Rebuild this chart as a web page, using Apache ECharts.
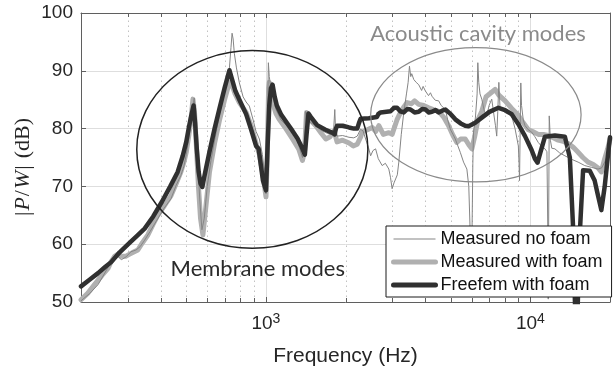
<!DOCTYPE html>
<html>
<head>
<meta charset="utf-8">
<script src="https://cdn.jsdelivr.net/npm/echarts@6/dist/echarts.min.js"></script>
<style>
  html, body { margin: 0; padding: 0; background: #ffffff; }
  #chart { width: 613px; height: 372px; }
</style>
</head>
<body>
<div id="chart"></div>
<script>
// Frequency response |P/W| (dB) vs frequency (Hz)

const seriesNames = ['Measured no foam', 'Measured with foam', 'Freefem with foam'];

const noFoamHz = [200, 216, 232, 246, 260, 268, 276, 284, 296, 309, 323, 335, 348, 365, 390, 412, 438, 458, 477, 490,
  500, 512, 522, 530, 536, 543, 552, 562, 573, 585, 600, 620, 640, 665, 690, 712, 728, 738, 745, 752,
  760, 774, 794, 820, 842, 866, 895, 918, 945, 970, 990, 1001, 1012, 1022, 1030, 1045, 1060, 1092, 1140, 1200,
  1261, 1317, 1375, 1400, 1412, 1430, 1480, 1545, 1610, 1685, 1760, 1805, 1822, 1835, 1858, 1950, 2062, 2150, 2215, 2281,
  2330, 2383, 2440, 2489, 2540, 2599, 2660, 2752, 2830, 2916, 2960, 3001, 3050, 3091, 3140, 3181, 3250, 3322, 3400, 3450,
  3490, 3530, 3560, 3623, 3700, 3783, 3880, 3930, 4010, 4120, 4190, 4246, 4370, 4500, 4600, 4769, 4870, 4980, 5100, 5202,
  5320, 5432, 5589, 5753, 5850, 5940, 5975, 6010, 6060, 6096, 6200, 6290, 6328, 6380, 6450, 6551, 6700, 6841, 6980, 7144,
  7300, 7380, 7461, 7530, 7600, 7680, 7792, 8000, 8250, 8499, 8750, 9006, 9060, 9100, 9150, 9200, 9260, 9400, 9544, 9820,
  10107, 10400, 10711, 11000, 11354, 11550, 11640, 11682, 11720, 11785, 11900, 12050, 12380, 12900, 13504, 14298, 15150, 16059, 17000, 18027,
  18600, 19100, 19600, 20000];
const noFoamDb = [50.2, 51.5, 53.0, 55.0, 57.0, 57.6, 57.9, 57.3, 57.8, 58.7, 59.0, 59.6, 60.7, 62.2, 64.4, 66.2, 67.9, 70.2, 71.9, 73.5,
  75.5, 78.5, 81.5, 84.0, 85.3, 81.0, 75.0, 68.0, 62.5, 64.5, 70.0, 74.5, 78.0, 82.0, 85.5, 88.5, 90.5, 94.0, 96.5, 95.5,
  93.0, 90.5, 87.9, 85.5, 84.6, 83.9, 81.5, 79.5, 78.2, 75.5, 72.0, 68.7, 78.0, 91.4, 89.0, 87.0, 85.8, 83.3, 81.5, 80.5,
  79.3, 77.8, 75.0, 77.0, 83.0, 81.8, 81.0, 80.5, 79.8, 79.3, 79.0, 80.0, 83.3, 79.5, 78.7, 78.8, 78.5, 78.4, 78.7, 79.9,
  79.6, 78.2, 76.8, 75.3, 76.2, 76.5, 74.8, 73.6, 74.0, 73.0, 71.5, 69.6, 70.6, 70.4, 72.0, 74.2, 79.0, 82.8, 86.0, 88.0,
  90.8, 89.0, 89.5, 88.5, 88.0, 87.6, 86.6, 87.3, 86.5, 85.7, 86.2, 85.6, 84.9, 84.8, 84.0, 83.3, 81.5, 79.9, 79.0, 78.2,
  77.0, 75.9, 74.2, 73.0, 70.0, 60.0, 52.0, 60.0, 74.0, 79.4, 82.0, 86.0, 91.4, 88.0, 86.0, 85.1, 83.0, 82.2, 84.0, 85.1,
  82.0, 80.5, 78.7, 83.0, 88.0, 83.5, 83.3, 82.8, 82.5, 82.2, 80.0, 77.0, 74.0, 71.0, 80.0, 87.9, 84.0, 81.5, 80.5, 79.8,
  79.4, 78.6, 77.6, 77.0, 76.5, 76.0, 62.0, 50.5, 62.0, 82.2, 78.0, 76.6, 76.5, 75.8, 75.3, 74.7, 74.2, 73.6, 73.3, 73.0,
  73.2, 74.2, 75.5, 77.0];

const foamHz = [200, 212, 225, 240, 253, 260, 268, 276, 284, 295, 303, 315, 328, 342, 358, 374, 390, 414, 438, 458,
  477, 490, 500, 512, 522, 530, 537, 546, 556, 566, 578, 590, 612, 640, 668, 698, 728, 745, 765, 794,
  842, 880, 918, 945, 975, 1001, 1012, 1024, 1030, 1045, 1060, 1092, 1123, 1190, 1261, 1330, 1375, 1400, 1424, 1470,
  1545, 1620, 1685, 1750, 1811, 1858, 1950, 2062, 2140, 2215, 2280, 2314, 2420, 2523, 2600, 2674, 2780, 2916, 3001, 3046,
  3130, 3228, 3330, 3419, 3550, 3650, 3783, 3950, 4126, 4300, 4500, 4700, 4907, 5100, 5274, 5450, 5673, 5850, 6007, 6150,
  6330, 6551, 6800, 7100, 7357, 7600, 8025, 8499, 9006, 9400, 9821, 10200, 10711, 11200, 11682, 12200, 12742, 13300, 13895, 14500,
  15153, 15800, 16524, 17300, 18027, 18549, 19100, 19600, 20000];
const foamDb = [50.4, 51.5, 53.0, 54.6, 55.8, 57.0, 57.9, 58.3, 57.9, 57.9, 58.2, 58.6, 59.0, 60.3, 61.6, 63.4, 65.0, 66.7, 68.4, 70.5,
  72.5, 74.2, 75.9, 79.0, 82.0, 85.1, 83.0, 77.0, 70.0, 64.5, 61.6, 65.5, 72.5, 77.5, 81.5, 85.0, 88.0, 87.5, 86.0, 84.5,
  82.8, 80.5, 77.5, 75.5, 72.0, 68.2, 75.0, 87.0, 88.0, 86.0, 84.5, 82.6, 81.6, 80.0, 78.2, 76.5, 74.5, 76.0, 82.8, 81.5,
  80.5, 79.2, 78.2, 78.6, 79.6, 77.7, 78.0, 77.5, 77.0, 77.3, 78.5, 79.4, 79.8, 80.2, 79.5, 80.5, 79.0, 79.3, 79.0, 79.9,
  81.5, 82.8, 83.8, 84.5, 84.3, 84.8, 84.2, 84.0, 83.6, 83.3, 83.0, 82.0, 80.5, 78.8, 77.6, 78.2, 78.2, 77.2, 76.5, 78.5,
  81.5, 83.0, 85.5, 86.2, 86.8, 85.8, 84.8, 83.5, 82.3, 81.0, 79.8, 79.5, 79.0, 79.0, 78.8, 78.4, 78.0, 77.8, 77.4, 76.8,
  75.9, 75.0, 74.2, 73.8, 73.2, 72.5, 74.8, 76.5, 78.2];

const freefemHz = [200, 216, 232, 246, 260, 280, 303, 325, 348, 375, 404, 435, 464, 485, 500, 512, 522, 533, 540, 548,
  557, 566, 575, 590, 612, 640, 668, 698, 728, 745, 767, 794, 842, 880, 918, 939, 955, 975, 1001, 1015,
  1030, 1045, 1060, 1080, 1100, 1140, 1200, 1261, 1317, 1360, 1404, 1425, 1449, 1480, 1562, 1680, 1780, 1820, 1840, 1858,
  1950, 2062, 2150, 2215, 2250, 2281, 2450, 2628, 2660, 2714, 2960, 3050, 3134, 3220, 3322, 3430, 3521, 3650, 3783, 3900,
  4010, 4130, 4246, 4380, 4500, 4640, 4769, 5000, 5202, 5450, 5673, 5838, 6187, 6551, 7000, 7572, 8025, 8499, 9000, 9544,
  10107, 10400, 10647, 10900, 11354, 12380, 13504, 13692, 14100, 14500, 14931, 15300, 15824, 16769, 17006, 17500, 17900, 18549, 19100, 19657,
  20000];
const freefemDb = [52.7, 53.9, 55.0, 56.0, 56.9, 58.6, 60.1, 61.4, 62.7, 64.8, 67.3, 70.0, 72.5, 75.3, 77.7, 80.3, 82.2, 84.0, 81.0, 76.5,
  72.5, 70.5, 69.9, 72.5, 76.0, 80.0, 83.5, 87.0, 90.1, 88.5, 86.5, 85.0, 82.5, 79.8, 77.0, 76.5, 74.0, 71.0, 69.3, 77.0,
  84.0, 87.0, 87.6, 85.5, 84.0, 82.5, 81.0, 79.6, 78.3, 77.0, 75.5, 79.0, 82.6, 82.0, 80.6, 79.8, 79.3, 79.0, 80.0, 80.5,
  80.5, 80.2, 80.0, 80.0, 81.0, 81.7, 81.8, 82.0, 82.5, 82.8, 83.0, 83.6, 83.6, 83.0, 82.8, 83.4, 83.3, 82.8, 82.9, 83.4,
  83.3, 82.8, 82.9, 83.2, 82.8, 83.1, 83.3, 82.5, 81.6, 80.9, 80.5, 80.4, 81.0, 81.9, 82.9, 83.6, 83.2, 82.5, 80.8, 78.7,
  76.3, 74.8, 74.1, 75.8, 78.6, 78.8, 78.6, 78.5, 75.0, 63.0, 40.0, 60.0, 72.8, 72.7, 72.4, 71.0, 69.0, 65.9, 70.0, 75.5,
  78.5];

// Dotted minor grid positions (2..9 x each decade)
const minorHz = [300, 400, 500, 600, 700, 800, 900, 2000, 3000, 4000, 5000, 6000, 7000, 8000, 9000];

// Annotation ellipses: [left Hz, top dB, right Hz, bottom dB]
const membraneRegion = [325, 93.5, 2430, 59.3];
const cavityRegion = [2490, 94.0, 15550, 70.8];
const membraneLabel = { text: 'Membrane modes', at: [932, 55.8] };
const cavityLabel = { text: 'Acoustic cavity modes', at: [6338, 96.3] };

const xMin = 200, xMax = 20000, yMin = 50, yMax = 100;
const axisColor = '#5f5f5f';
const textColor = '#262626';
const sansFont = '"Liberation Sans", Arial, Helvetica, sans-serif';
const serifFont = '"Liberation Serif", "DejaVu Serif", serif';
const annoFont = 'Lato, "Open Sans", sans-serif';

const zip = (xs, ys) => xs.map((x, i) => [x, ys[i]]);

function isDecade(v) {
  const l = Math.log10(v);
  return Math.abs(l - Math.round(l)) < 1e-6;
}

const chart = echarts.init(document.getElementById('chart'), null, { renderer: 'canvas' });

function ellipseItem(region, color, width) {
  return function (params, api) {
    const p0 = api.coord([region[0], region[1]]);
    const p1 = api.coord([region[2], region[3]]);
    return {
      type: 'ellipse',
      shape: {
        cx: (p0[0] + p1[0]) / 2, cy: (p0[1] + p1[1]) / 2,
        rx: Math.abs(p1[0] - p0[0]) / 2, ry: Math.abs(p1[1] - p0[1]) / 2
      },
      style: { fill: 'none', stroke: color, lineWidth: width },
      silent: true
    };
  };
}

function labelItem(label, color) {
  return function (params, api) {
    const p = api.coord(label.at);
    return {
      type: 'text',
      x: p[0], y: p[1],
      style: {
        text: label.text, fill: color, fontSize: 22, fontFamily: annoFont,
        align: 'center', verticalAlign: 'middle'
      },
      silent: true
    };
  };
}

const option = {
  animation: false,
  backgroundColor: '#ffffff',
  grid: { left: 81, right: 1, top: 13, bottom: 68, containLabel: false },
  xAxis: [{
    type: 'log', logBase: 10, min: xMin, max: xMax,
    axisLine: { show: true, lineStyle: { color: axisColor, width: 1 } },
    axisTick: { show: true, inside: true, length: 5, lineStyle: { color: axisColor } },
    splitLine: { show: true, lineStyle: { color: '#dedede', width: 1 } },
    minorTick: { show: false }, minorSplitLine: { show: false },
    axisLabel: {
      margin: 10,
      formatter: v => isDecade(v) ? '{b|10}{s|' + Math.round(Math.log10(v)) + '}' : '',
      rich: {
        b: { fontSize: 19, fontFamily: sansFont, color: textColor, lineHeight: 24 },
        s: { fontSize: 14, fontFamily: sansFont, color: textColor, lineHeight: 14, verticalAlign: 'top' }
      }
    },
    name: 'Frequency (Hz)', nameLocation: 'middle', nameGap: 44,
    nameTextStyle: { fontSize: 21, fontFamily: sansFont, color: textColor }
  }, {
    type: 'log', logBase: 10, min: xMin, max: xMax, position: 'top',
    axisLine: { show: true, lineStyle: { color: axisColor, width: 1 } },
    axisTick: { show: true, inside: true, length: 5, lineStyle: { color: axisColor } },
    axisLabel: { show: false }, splitLine: { show: false }
  }],
  yAxis: [{
    type: 'value', min: yMin, max: yMax, interval: 10,
    axisLine: { show: true, lineStyle: { color: axisColor, width: 1 } },
    axisTick: { show: true, inside: true, length: 5, lineStyle: { color: axisColor } },
    splitLine: { show: true, lineStyle: { color: '#dedede', width: 1 } },
    axisLabel: { margin: 8, fontSize: 19, fontFamily: sansFont, color: textColor }
  }, {
    type: 'value', min: yMin, max: yMax, interval: 10, position: 'right',
    axisLine: { show: true, lineStyle: { color: axisColor, width: 1 } },
    axisTick: { show: true, inside: true, length: 5, lineStyle: { color: axisColor } },
    axisLabel: { show: false }, splitLine: { show: false }
  }],
  graphic: [{
    type: 'text', x: 23, y: 167, rotation: Math.PI / 2,
    style: {
      text: '{n||}{i|P}{n|/}{i|W}{n||}{d|(dB)}',
      align: 'center', verticalAlign: 'middle',
      rich: {
        n: { fontSize: 22, fontFamily: serifFont, fill: textColor },
        i: { fontSize: 22, fontFamily: serifFont, fontStyle: 'italic', fill: textColor, padding: [0, 1] },
        d: { fontSize: 22, fontFamily: serifFont, fill: textColor, padding: [0, 0, 0, 7] }
      }
    },
    silent: true
  }],
  legend: {
    show: true,
    orient: 'vertical', left: 386, top: 226,
    padding: [4, 9, 3, 5], itemGap: 5, itemWidth: 42, itemHeight: 14,
    backgroundColor: '#ffffff', borderColor: '#1a1a1a', borderWidth: 1, borderRadius: 0,
    z: 10,
    itemStyle: { opacity: 0 },
    textStyle: { fontSize: 18, fontFamily: sansFont, color: '#111111' },
    data: [
      { name: seriesNames[0], lineStyle: { width: 1 } },
      { name: seriesNames[1], lineStyle: { width: 5 } },
      { name: seriesNames[2], lineStyle: { width: 5 } }
    ]
  },
  series: [
    {
      name: 'minor grid', type: 'custom', xAxisIndex: 0, yAxisIndex: 0, z: 1, silent: true,
      data: minorHz.map(f => [f, yMin]),
      encode: { x: 0, y: 1 },
      renderItem: (params, api) => {
        const f = api.value(0);
        const b = api.coord([f, yMin]);
        const t = api.coord([f, yMax]);
        const x = Math.round(b[0]) + 0.5;
        return {
          type: 'group',
          children: [
            { type: 'line', shape: { x1: x, y1: b[1], x2: x, y2: t[1] }, style: { stroke: '#c2c2c2', lineWidth: 1, lineDash: [1.5, 3.5] } },
            { type: 'line', shape: { x1: x, y1: b[1], x2: x, y2: b[1] - 4 }, style: { stroke: axisColor, lineWidth: 1 } },
            { type: 'line', shape: { x1: x, y1: t[1], x2: x, y2: t[1] + 4 }, style: { stroke: axisColor, lineWidth: 1 } }
          ]
        };
      }
    },
    {
      name: seriesNames[0], type: 'line', data: zip(noFoamHz, noFoamDb),
      showSymbol: false, symbol: 'none', z: 3, clip: true,
      lineStyle: { color: '#858585', width: 1, join: 'round' }, itemStyle: { color: '#858585' }
    },
    {
      name: seriesNames[1], type: 'line', data: zip(foamHz, foamDb),
      showSymbol: false, symbol: 'none', z: 2, clip: true,
      lineStyle: { color: '#b0b0b0', width: 5, join: 'round', cap: 'round' }, itemStyle: { color: '#b0b0b0' }
    },
    {
      name: seriesNames[2], type: 'line', data: zip(freefemHz, freefemDb),
      showSymbol: false, symbol: 'none', z: 4, clip: true,
      lineStyle: { color: '#303030', width: 4.5, join: 'round', cap: 'round' }, itemStyle: { color: '#303030' }
    },
    {
      name: 'membrane region', type: 'custom', z: 5, silent: true, clip: false,
      data: [membraneRegion], encode: { x: [0, 2], y: [1, 3] },
      renderItem: ellipseItem(membraneRegion, '#222222', 1.5)
    },
    {
      name: 'cavity region', type: 'custom', z: 5, silent: true, clip: false,
      data: [cavityRegion], encode: { x: [0, 2], y: [1, 3] },
      renderItem: ellipseItem(cavityRegion, '#8a8a8a', 1.2)
    },
    {
      name: 'membrane label', type: 'custom', z: 6, silent: true, clip: false,
      data: [membraneLabel.at], encode: { x: 0, y: 1 },
      renderItem: labelItem(membraneLabel, '#2a2a2a')
    },
    {
      name: 'cavity label', type: 'custom', z: 6, silent: true, clip: false,
      data: [cavityLabel.at], encode: { x: 0, y: 1 },
      renderItem: labelItem(cavityLabel, '#8a8a8a')
    }
  ]
};

chart.setOption(option);
</script>
</body>
</html>
